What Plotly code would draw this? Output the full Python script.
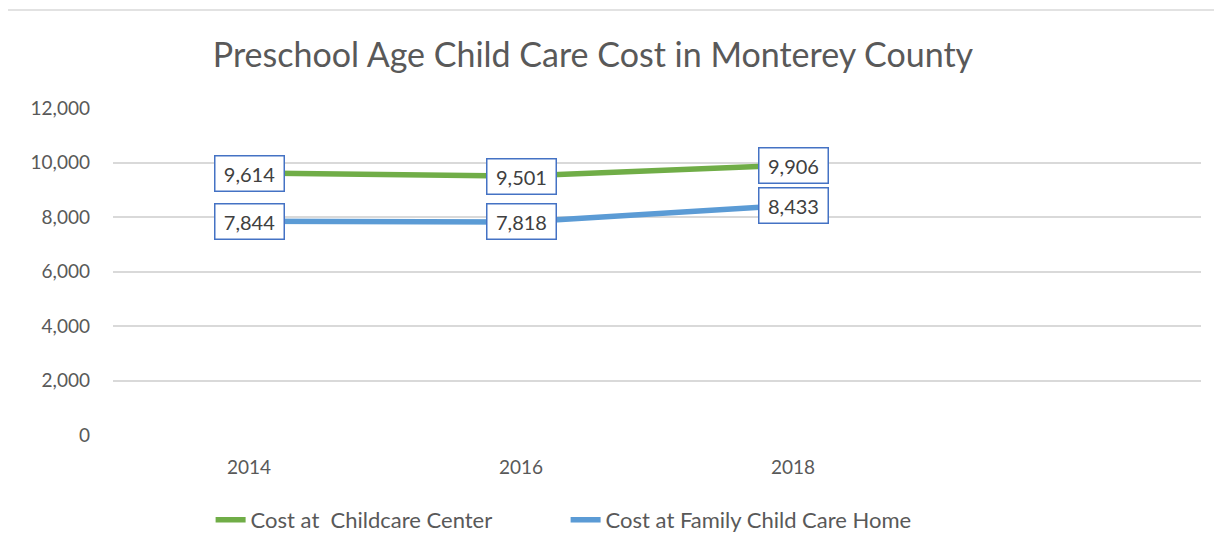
import plotly.graph_objects as go

# chart data
years = ["2014", "2016", "2018"]
center_cost = [9614, 9501, 9906]
home_cost = [7844, 7818, 8433]
series_names = ["Cost at  Childcare Center", "Cost at Family Child Care Home"]

colors = {
    'center': '#70AD47',
    'home': '#5B9BD5',
    'label_border': '#4472C4',
    'text': '#595959',
    'grid': '#D9D9D9',
}
FONT = "Lato, 'Open Sans', sans-serif"

fig = go.Figure()
fig.add_trace(go.Scatter(x=years, y=center_cost, name=series_names[0], mode='lines',
                         line=dict(color=colors['center'], width=5.5)))
fig.add_trace(go.Scatter(x=years, y=home_cost, name=series_names[1], mode='lines',
                         line=dict(color=colors['home'], width=5.5)))

# boxed data labels centred on each point (x given as category index)
for vals in (center_cost, home_cost):
    for i, v in enumerate(vals):
        fig.add_annotation(
            x=i, y=v, xref='x', yref='y', text=f"{v:,}", showarrow=False,
            font=dict(size=20, color='#404040', family=FONT),
            bgcolor='white', bordercolor=colors['label_border'], borderwidth=1.5,
            borderpad=3, width=62, height=28,
        )

# outer chart border
fig.add_shape(type='rect', xref='paper', yref='paper',
              x0=-0.0974, x1=1.03, y0=-0.40, y1=1.300,
              line=dict(color=colors['grid'], width=1.5), fillcolor='rgba(0,0,0,0)')

# the page body adds an 8px margin, so the figure is 8px smaller than the window
fig.update_layout(
    width=1214, height=544,
    margin=dict(l=105, r=21, t=100, b=116),
    paper_bgcolor='white', plot_bgcolor='white',
    title=dict(text="Preschool Age Child Care Cost in Monterey County",
               x=585 / 1214, xanchor='center', y=1 - 47 / 544, yanchor='middle',
               font=dict(size=34, color=colors['text'], family=FONT)),
    font=dict(family=FONT, size=19, color=colors['text']),
    legend=dict(orientation='h', xanchor='center', x=0.416, yanchor='middle', y=-0.256,
                entrywidth=310, font=dict(size=22, color=colors['text'])),
    showlegend=True,
)
fig.update_xaxes(type='category', range=[-0.5, 3.5], showgrid=False, showline=False,
                 zeroline=False, ticks='', ticklabelstandoff=19,
                 tickfont=dict(size=19, color=colors['text']))
fig.update_yaxes(range=[0, 12000], dtick=2000, tickformat=',d', showgrid=True,
                 gridcolor=colors['grid'], gridwidth=1.5, zeroline=False, showline=False,
                 ticks='', ticklabelstandoff=22,
                 tickfont=dict(size=19, color=colors['text']))

fig.write_html("out.html")
